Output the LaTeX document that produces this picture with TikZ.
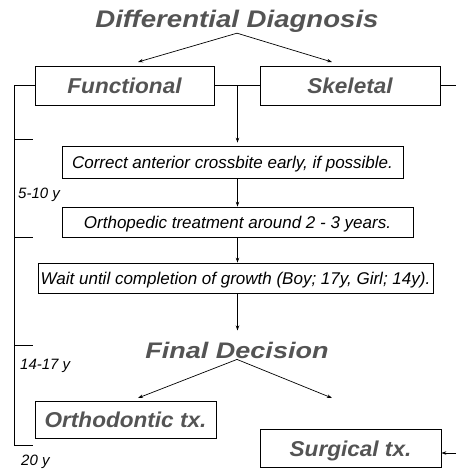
\documentclass[tikz,border=0pt]{standalone}
\usepackage{fontspec}
\setmainfont{Liberation Sans}
\newfontfamily\headfont[FakeStretch=1.15]{Liberation Sans}
\newfontfamily\finfont[FakeStretch=1.2]{Liberation Sans}
\newfontfamily\boxhfont[FakeStretch=1.05]{Liberation Sans}
\usetikzlibrary{arrows.meta,calc}
\definecolor{headgray}{gray}{0.33}
\begin{document}
\begin{tikzpicture}[x=1pt,y=-1pt,
  box/.style={draw=black,line width=0.8pt,inner sep=0pt},
  hbox/.style={box,text=headgray,text height=15pt,text depth=0pt,font=\boxhfont\bfseries\itshape\fontsize{21.5}{25}\selectfont},
  tbox/.style={box,text height=13.5pt,text depth=0.5pt,font=\itshape\fontsize{17}{20}\selectfont},
  title/.style={text=headgray,inner sep=1pt,anchor=base},
  lab/.style={anchor=base west,inner sep=0pt,font=\itshape\fontsize{15}{18}\selectfont},
  arr/.style={-{Stealth[length=5pt,width=3.5pt]},line width=0.7pt},
  ln/.style={line width=0.8pt}]
\useasboundingbox (0,0) rectangle (456,469);

% titles
\node[title,font=\headfont\bfseries\itshape\fontsize{24}{28}\selectfont] (t1) at (237,27) {Differential Diagnosis};
\node[title,font=\finfont\bfseries\itshape\fontsize{22.5}{26}\selectfont] (t2) at (237,358) {Final Decision};

% boxes
\node[hbox,minimum width=179pt,minimum height=39pt] (fun) at (124.5,85.5) {Functional};
\node[hbox,minimum width=180pt,minimum height=39pt] (ske) at (350,85.5) {Skeletal};
\node[tbox,minimum width=341pt,minimum height=32pt] (c1) at (232.5,162) {Correct anterior crossbite early, if possible.};
\node[tbox,minimum width=351pt,minimum height=30pt] (c2) at (237.5,222) {Orthopedic treatment around 2 - 3 years.};
\node[tbox,minimum width=395pt,minimum height=30pt] (c3) at (235.5,278) {Wait until completion of growth (Boy; 17y, Girl; 14y).};
\node[hbox,minimum width=181pt,minimum height=37pt] (orth) at (125.5,419.5) {Orthodontic tx.};
\node[hbox,minimum width=181pt,minimum height=38pt] (surg) at (350.5,448.5) {Surgical tx.};

% age labels
\node[lab] (a1) at (18,198) {5-10 y};
\node[lab] (a2) at (20,369) {14-17 y};
\node[lab] (a3) at (21,465) {20 y};

% helper coordinates
\coordinate (tl1) at (138,62);
\coordinate (tr1) at (332,62);
\coordinate (tl2) at (138,398);
\coordinate (tr2) at (332,398);
\coordinate (mj) at (237.5,86);
\coordinate (lb) at (14,445);
\coordinate (k1) at (14,139);
\coordinate (k2) at (14,237);
\coordinate (k3) at (14,345);
\coordinate (rr) at (456,86);
\coordinate (sr) at (456,453);

% arrows from titles
\draw[arr] (t1.south) -- (tl1);
\draw[arr] (t1.south) -- (tr1);
\draw[arr] (t2.south) -- (tl2);
\draw[arr] (t2.south) -- (tr2);

% middle connector
\draw[ln] (fun.east) -- (ske.west);
\draw[arr,shorten >=3pt] (mj |- fun.east) -- (mj |- c1.north);
\draw[arr] (mj |- c1.south) -- (mj |- c2.north);
\draw[arr] (mj |- c2.south) -- (mj |- c3.north);
\draw[arr] (mj |- c3.south) -- ($(mj |- t2.north)+(0,-10)$);

% left bracket
\draw[ln] (fun.west) -| (lb) -- ++(19,0);
\draw[ln] (k1) -- ++(19,0);
\draw[ln] (k2) -- ++(19,0);
\draw[ln] (k3) -- ++(19,0);

% right side
\draw[ln] (ske.east) -- (ske.east -| rr);
\draw[arr] (sr) -- (sr -| surg.east);
\end{tikzpicture}
\end{document}
